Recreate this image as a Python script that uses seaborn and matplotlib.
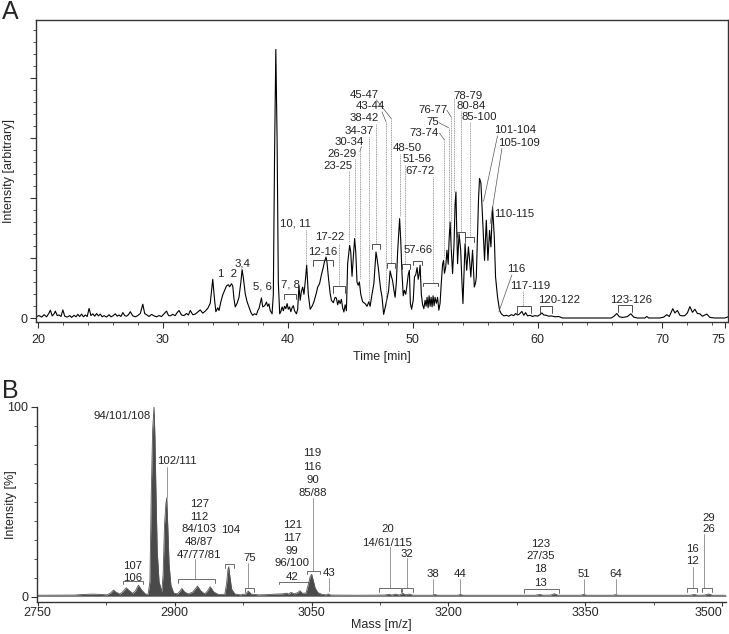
import numpy as np
import matplotlib
matplotlib.use("Agg")
import matplotlib.pyplot as plt
import seaborn as sns

sns.set_style("ticks")
plt.rcParams['font.family'] = ['Liberation Sans', 'DejaVu Sans']
plt.rcParams['font.size'] = 8

# ---- panel A: chromatogram (time in min, intensity in arbitrary units) ----
time_min = [
    19.85, 20.1, 20.3, 20.5, 20.7, 20.9, 21.0, 21.15, 21.3, 21.4,
    21.55, 21.7, 21.85, 22.0, 22.15, 22.35, 22.55, 22.7, 22.9, 23.05,
    23.2, 23.35, 23.5, 23.65, 23.8, 23.95, 24.1, 24.25, 24.4, 24.55,
    24.7, 24.85, 25.0, 25.15, 25.3, 25.5, 25.7, 25.85, 26.0, 26.2,
    26.35, 26.5, 26.65, 26.8, 26.95, 27.1, 27.25, 27.4, 27.6, 27.8,
    28.0, 28.2, 28.4, 28.55, 28.7, 28.9, 29.1, 29.3, 29.5, 29.7,
    29.9, 30.1, 30.3, 30.45, 30.6, 30.8, 31.0, 31.15, 31.3, 31.5,
    31.7, 31.9, 32.05, 32.2, 32.4, 32.6, 32.8, 33.0, 33.2, 33.4,
    33.6, 33.8, 34.0, 34.15, 34.25, 34.4, 34.5, 34.65, 34.8, 34.95,
    35.1, 35.25, 35.35, 35.5, 35.6, 35.7, 35.8, 35.95, 36.1, 36.25,
    36.35, 36.45, 36.6, 36.75, 36.9, 37.05, 37.2, 37.35, 37.5, 37.6,
    37.7, 37.8, 37.9, 38.0, 38.1, 38.2, 38.3, 38.4, 38.5, 38.6,
    38.75, 38.85, 38.95, 39.05, 39.15, 39.25, 39.36, 39.45, 39.55, 39.65,
    39.75, 39.85, 39.95, 40.05, 40.15, 40.25, 40.35, 40.45, 40.55, 40.7,
    40.8, 40.9, 41.0, 41.1, 41.2, 41.3, 41.4, 41.52, 41.65, 41.8,
    41.95, 42.1, 42.2, 42.3, 42.4, 42.55, 42.7, 42.85, 42.95, 43.07,
    43.15, 43.25, 43.4, 43.5, 43.65, 43.8, 43.9, 44.0, 44.1, 44.2,
    44.3, 44.4, 44.5, 44.6, 44.7, 44.8, 44.96, 45.05, 45.15, 45.25,
    45.36, 45.45, 45.55, 45.65, 45.74, 45.85, 46.0, 46.2, 46.35, 46.5,
    46.6, 46.75, 46.9, 47.0, 47.07, 47.15, 47.25, 47.35, 47.45, 47.55,
    47.68, 47.8, 47.95, 48.08, 48.2, 48.3, 48.4, 48.5, 48.6, 48.7,
    48.8, 48.96, 49.05, 49.15, 49.25, 49.34, 49.45, 49.55, 49.65, 49.74,
    49.82, 49.92, 50.05, 50.15, 50.25, 50.36, 50.45, 50.52, 50.6, 50.7,
    50.8, 50.9, 51.0, 51.08, 51.16, 51.24, 51.32, 51.4, 51.48, 51.56,
    51.64, 51.72, 51.8, 51.9, 52.0, 52.1, 52.2, 52.3, 52.4, 52.48,
    52.55, 52.65, 52.75, 52.85, 52.92, 53.0, 53.1, 53.2, 53.32, 53.4,
    53.47, 53.53, 53.6, 53.72, 53.85, 53.95, 54.03, 54.12, 54.2, 54.33,
    54.47, 54.57, 54.66, 54.8, 54.94, 55.05, 55.1, 55.2, 55.28, 55.36,
    55.47, 55.55, 55.63, 55.76, 55.9, 56.03, 56.16, 56.27, 56.4, 56.54,
    56.64, 56.8, 56.96, 57.1, 57.3, 57.5, 57.7, 57.9, 58.1, 58.25,
    58.4, 58.55, 58.75, 58.9, 59.05, 59.2, 59.4, 59.6, 59.8, 60.0,
    60.2, 60.35, 60.5, 60.7, 60.9, 61.1, 61.4, 61.7, 62.0, 63.0,
    64.0, 65.0, 65.9, 66.1, 66.35, 66.55, 66.8, 67.0, 67.2, 67.47,
    67.7, 68.0, 68.6, 68.75, 68.9, 69.8, 70.1, 70.35, 70.55, 70.83,
    71.0, 71.2, 71.4, 71.6, 71.8, 72.0, 72.2, 72.4, 72.6, 72.8,
    73.0, 73.2, 73.55, 73.8, 74.2, 75.0, 75.25,
]
intensity = [
    0.5, 0.9, 0.4, 1.2, 0.5, 1.8, 2.7, 0.8, 1.5, 2.4,
    0.9, 1.1, 0.6, 2.8, 0.7, 0.4, 0.9, 0.3, 1.0, 0.5,
    1.3, 0.6, 1.4, 0.5, 1.1, 0.6, 3.3, 0.9, 1.5, 0.7,
    1.6, 0.8, 1.4, 0.5, 0.9, 0.4, 1.2, 0.5, 0.8, 1.5,
    0.7, 1.1, 0.6, 1.9, 0.9, 0.7, 1.2, 2.2, 0.8, 0.5,
    0.9, 1.6, 4.7, 1.6, 1.2, 0.6, 1.3, 0.8, 0.5, 0.9,
    0.6, 1.5, 2.4, 1.0, 0.8, 1.3, 0.9, 1.9, 2.6, 1.1,
    0.9, 1.6, 1.1, 2.6, 1.2, 1.4, 2.1, 2.8, 1.7, 2.4,
    3.3, 5.0, 13.0, 6.0, 2.2, 3.5, 2.6, 5.5, 7.8, 9.3,
    10.8, 11.2, 10.5, 11.5, 10.8, 6.5, 3.8, 5.0, 7.0, 12.0,
    16.2, 13.5, 8.2, 5.5, 3.8, 2.0, 1.0, 1.5, 1.2, 2.5,
    3.2, 5.0, 6.8, 3.8, 4.0, 4.5, 5.4, 4.0, 4.8, 2.6,
    1.5, 8.0, 55.0, 89.6, 60.0, 12.0, 1.5, 2.2, 3.8, 2.5,
    4.0, 3.2, 4.9, 3.0, 3.8, 2.2, 3.5, 4.2, 2.5, 1.5,
    3.0, 10.8, 6.0, 9.0, 10.4, 8.0, 12.0, 17.7, 8.0, 3.0,
    4.0, 5.5, 7.0, 8.5, 10.4, 11.5, 14.5, 17.0, 19.0, 20.4,
    18.5, 14.0, 8.2, 6.0, 5.2, 7.0, 6.7, 4.5, 6.0, 4.9,
    6.3, 3.5, 2.1, 4.5, 2.5, 18.2, 24.3, 22.0, 14.0, 20.0,
    26.6, 22.0, 12.0, 11.0, 12.1, 8.0, 5.5, 4.9, 4.0, 5.5,
    4.0, 8.0, 11.6, 18.0, 22.1, 20.0, 17.0, 13.0, 9.5, 7.1,
    1.3, 3.5, 6.5, 9.3, 15.8, 14.0, 12.5, 9.5, 7.0, 12.0,
    22.0, 33.2, 26.0, 15.0, 7.5, 9.3, 8.0, 11.0, 14.5, 16.0,
    5.0, 3.0, 6.0, 13.8, 14.5, 16.9, 13.0, 14.5, 17.7, 8.0,
    4.5, 3.2, 6.0, 4.0, 7.0, 3.5, 7.5, 4.0, 7.0, 3.8,
    7.5, 4.2, 7.0, 5.0, 7.0, 2.7, 5.0, 12.0, 18.0, 19.3,
    15.0, 17.0, 22.7, 18.0, 26.0, 32.1, 22.7, 14.9, 25.0, 38.0,
    42.1, 30.0, 18.2, 28.2, 22.7, 12.0, 4.9, 15.0, 24.9, 16.0,
    23.8, 19.0, 13.8, 22.7, 10.4, 12.0, 13.8, 28.2, 40.0, 46.6,
    45.0, 38.0, 30.4, 19.3, 32.7, 19.3, 29.3, 23.8, 37.1, 27.1,
    13.8, 7.1, 2.7, 1.5, 0.8, 1.0, 0.7, 1.2, 0.9, 1.6,
    1.1, 1.4, 2.3, 1.0, 1.9, 0.8, 1.0, 0.6, 0.9, 0.7,
    1.2, 1.8, 1.1, 1.0, 0.7, 0.8, 0.5, 0.6, 0.1, 0.1,
    0.1, 0.1, 0.1, 0.6, 1.6, 0.5, 0.3, 0.4, 0.6, 1.5,
    0.4, 0.1, 0.1, 0.6, 0.1, 0.1, 0.4, 1.2, 0.6, 3.2,
    1.8, 2.6, 1.0, 0.8, 0.9, 1.8, 3.9, 2.0, 3.0, 1.6,
    1.5, 0.7, 1.4, 0.3, 0.1, 0.1, 0.5,
]

# peak labels of panel A: text, centre time, centre intensity
labels_a = ["1  2", "3,4", "5, 6", "7, 8", "10, 11", "12-16", "17-22",
            "23-25", "26-29", "30-34", "34-37", "38-42", "43-44", "45-47",
            "48-50", "51-56", "67-72", "57-66", "73-74", "75", "76-77",
            "78-79", "80-84", "85-100", "101-104", "105-109", "110-115",
            "116", "117-119", "120-122", "123-126"]
label_t = [35.15, 36.4, 37.95, 40.2, 40.65, 42.8, 43.35,
           44.0, 44.35, 44.9, 45.7, 46.1, 46.6, 46.1,
           49.55, 50.4, 50.6, 50.45, 50.95, 51.65, 51.6,
           54.4, 54.65, 55.35, 58.2, 58.5, 58.1,
           58.3, 59.4, 61.7, 67.5]
label_i = [14.8, 18.3, 10.6, 11.1, 31.7, 22.2, 27.0,
           50.9, 54.8, 58.7, 62.3, 66.7, 70.8, 74.4,
           56.9, 53.0, 49.1, 22.6, 61.7, 65.3, 69.4,
           74.2, 70.6, 67.0, 62.6, 58.3, 34.8,
           16.3, 10.8, 6.1, 6.1]

# leader lines of panel A (time, intensity) from label to peak
leaders_a = [
    [(41.5, 29.4), (41.5, 17.7)],
    [(44.13, 24.8), (44.13, 10.6)],
    [(44.93, 49.0), (44.93, 25.0)],
    [(45.42, 53.0), (45.42, 27.0)],
    [(45.9, 57.2), (45.78, 55.5), (45.78, 13.0)],
    [(46.54, 60.3), (46.54, 5.0)],
    [(47.03, 64.8), (47.03, 24.7)],
    [(47.55, 68.8), (47.87, 65.5), (47.87, 4.5)],
    [(47.1, 72.8), (48.3, 66.5), (48.3, 18.3)],
    [(48.96, 54.8), (48.96, 34.0)],
    [(49.42, 51.2), (49.42, 18.0)],
    [(51.6, 47.2), (51.6, 11.9)],
    [(52.15, 61.7), (52.54, 59.5), (52.54, 20.5)],
    [(52.1, 65.2), (52.88, 63.5), (52.88, 30.0)],
    [(52.75, 69.3), (53.1, 67.0), (53.1, 23.0)],
    [(53.35, 73.5), (53.35, 42.0)],
    [(53.87, 69.0), (53.87, 28.7)],
    [(54.56, 65.3), (54.56, 27.0)],
    [(56.8, 60.8), (55.68, 39.0)],
    [(57.15, 56.6), (56.2, 31.5)],
    [(57.95, 14.5), (56.9, 2.1)],
    [(58.85, 9.0), (58.85, 4.1)],
]

# brackets of panel A: start, end, top, foot
brackets_a = [
    (39.7, 40.67, 8.0, 6.3), (42.06, 43.66, 19.4, 17.4),
    (43.63, 44.6, 10.6, 8.3), (46.73, 47.36, 24.7, 23.0),
    (47.93, 48.6, 18.3, 16.7), (49.16, 49.83, 18.0, 16.3),
    (50.0, 50.77, 19.2, 17.8), (50.84, 52.04, 11.9, 10.8),
    (53.57, 54.2, 28.7, 27.0), (54.2, 54.88, 27.0, 25.3),
    (58.39, 59.44, 4.1, 1.9), (60.19, 61.12, 4.1, 1.9),
    (66.43, 67.59, 4.4, 2.2),
]

# ---- panel B: mass spectrum (m/z, relative intensity %) ----
mass_mz = [
    2749, 2790, 2800, 2810, 2820, 2826, 2830, 2833, 2836, 2840,
    2843, 2847, 2851, 2854, 2857, 2860.4, 2864, 2868, 2871, 2873,
    2874.5, 2876, 2877.5, 2878.5, 2879.5, 2881, 2883, 2886, 2887.5, 2889,
    2890.5, 2891.4, 2892.5, 2894, 2896, 2899, 2903, 2906, 2908, 2911,
    2915, 2920, 2925, 2929, 2933, 2936, 2939, 2943, 2948, 2955,
    2957, 2958.5, 2959.3, 2960.5, 2962.5, 2966, 2972, 2978, 2980.8, 2984,
    2992, 3000, 3010, 3018, 3022.8, 3025, 3027.6, 3031, 3035, 3037.4,
    3040, 3044, 3046.5, 3048.5, 3050.2, 3052, 3054, 3057, 3061, 3066,
    3068.4, 3071, 3100, 3130, 3135, 3138, 3142, 3146, 3150, 3153,
    3157, 3161, 3182, 3185, 3188, 3210, 3213, 3216, 3295, 3300,
    3304, 3312, 3316, 3320, 3345, 3348, 3351, 3380, 3383, 3386,
    3465, 3469, 3473, 3481, 3485, 3489, 3504,
]
rel_intensity = [
    0.8, 0.9, 1.2, 1.4, 1.2, 1.0, 2.0, 3.5, 2.4, 1.4,
    2.5, 4.7, 3.0, 1.8, 3.0, 6.1, 3.5, 1.5, 1.2, 8.0,
    55.0, 88.0, 100.0, 84.0, 58.0, 24.0, 8.0, 2.5, 12.0, 38.0,
    49.0, 52.0, 38.0, 17.0, 6.0, 2.0, 1.5, 3.0, 4.4, 2.5,
    1.5, 2.5, 5.6, 3.0, 1.5, 3.0, 5.3, 2.5, 1.2, 1.3,
    7.0, 14.5, 15.8, 11.0, 4.0, 1.5, 1.0, 1.5, 3.0, 1.4,
    1.0, 1.1, 1.4, 1.5, 1.9, 1.4, 2.3, 1.5, 2.2, 3.2,
    1.8, 2.0, 6.5, 10.5, 11.8, 8.5, 4.5, 2.2, 1.3, 1.0,
    1.5, 0.9, 0.8, 0.9, 1.3, 0.9, 1.4, 0.9, 1.8, 1.0,
    1.4, 0.8, 0.8, 1.2, 0.8, 0.8, 1.2, 0.8, 0.8, 1.2,
    0.8, 0.9, 1.6, 0.8, 0.8, 1.2, 0.8, 0.8, 1.1, 0.8,
    0.8, 1.2, 0.8, 0.9, 1.5, 0.8, 0.8,
]

labels_b = ["94/101/108", "102/111",
            "127", "112", "84/103", "48/87", "47/77/81",
            "107", "106", "104", "75",
            "119", "116", "90", "85/88",
            "121", "117", "99", "96/100", "42", "43",
            "20", "14/61/115", "32", "38", "44",
            "123", "27/35", "18", "13", "51", "64",
            "16", "12", "29", "26"]
label_mz = [2844.7, 2902.4,
            2927, 2927, 2927, 2927, 2927,
            2854, 2854, 2961.2, 2982.6,
            3051.3, 3051.3, 3051.3, 3051.3,
            3029, 3029, 3029, 3029, 3029, 3069,
            3133, 3133, 3154.9, 3182.7, 3212.6,
            3300.6, 3300.6, 3300.6, 3300.6, 3348.4, 3383,
            3467.4, 3467.4, 3484.6, 3484.6]
label_pct = [95.1, 71.6,
             49.0, 42.0, 35.4, 28.8, 22.0,
             16.3, 9.7, 35.0, 20.4,
             75.6, 68.5, 61.4, 54.7,
             37.7, 31.0, 24.2, 17.5, 10.6, 12.4,
             35.4, 28.3, 22.7, 11.9, 11.9,
             28.0, 21.2, 14.5, 7.4, 11.9, 11.9,
             25.3, 18.6, 41.6, 35.9]

# leader lines of panel B: m/z, top, bottom
leaders_b = [
    (2891.4, 68.5, 52.0), (2922.4, 19.8, 9.1), (2980.4, 18.0, 4.4),
    (3052.0, 51.8, 13.7), (3069.5, 10.0, 2.8), (3136.0, 26.0, 4.4),
    (3154.9, 20.2, 4.4), (3182.7, 9.5, 1.6), (3212.6, 9.5, 1.6),
    (3348.4, 9.5, 1.6), (3383.0, 9.5, 1.6), (3467.4, 15.8, 4.4),
    (3479.5, 33.0, 4.4),
]
brackets_b = [
    (2844, 2865, 8.2, 6.7), (2903.5, 2944.4, 9.1, 7.4),
    (2955.3, 2965.5, 17.0, 15.3), (2977, 2987.3, 4.4, 2.6),
    (3014.8, 3047.6, 7.9, 6.7), (3045.4, 3059.3, 13.7, 12.0),
    (3124.2, 3147.7, 4.4, 2.6), (3149.4, 3160.8, 4.4, 2.6),
    (3283, 3321.3, 3.9, 1.8), (3461.5, 3472.5, 4.4, 2.6),
    (3477.2, 3488.2, 4.4, 2.6),
]


def draw_bracket(ax, x0, x1, top, foot, color):
    ax.plot([x0, x0, x1, x1], [foot, top, top, foot], color=color, lw=0.6,
            solid_joinstyle='miter')


fig = plt.figure(figsize=(7.29, 6.34), dpi=100)
ax_a = fig.add_axes([36 / 729, 1 - 322.5 / 634, 692 / 729, 302.5 / 634])
ax_b = fig.add_axes([36.7 / 729, 1 - 601.7 / 634, 689.3 / 729, 195 / 634])

# ---------------- panel A ----------------
sns.lineplot(x=time_min, y=intensity, ax=ax_a, color='black', linewidth=0.8,
             estimator=None, sort=False)

for pts in leaders_a:
    xs, ys = zip(*pts)
    if len(pts) == 3 or xs[0] != xs[-1]:
        ax_a.plot(xs[:2], ys[:2], color='#555555', lw=0.5)
    if xs[-2] == xs[-1]:
        ax_a.plot(xs[-2:], ys[-2:], color='#777777', lw=0.5,
                  linestyle=(0, (1.5, 1)))
for x0, x1, top, foot in brackets_a:
    draw_bracket(ax_a, x0, x1, top, foot, '#333333')
for txt, t, i in zip(labels_a, label_t, label_i):
    ax_a.text(t, i, txt, ha='center', va='center', fontsize=8.2, color='#222222')

ax_a.set_xlim(19.85, 75.25)
ax_a.set_ylim(-1.4, 99.4)
ax_a.set_xticks([20, 30, 40, 50, 60, 70, 75])
ax_a.set_xticks(np.arange(22, 75, 2), minor=True)
ax_a.set_yticks([0, 20, 40, 60, 80])
ax_a.set_yticklabels(['0', '', '', '', ''])
ax_a.set_yticks([v for v in range(4, 100, 4) if v % 20], minor=True)
ax_a.xaxis.get_majorticklabels()[-1].set_horizontalalignment('right')
ax_a.set_xlabel('Time [min]', fontsize=9, labelpad=4)
ax_a.set_ylabel('Intensity [arbitrary]', fontsize=9)
ax_a.yaxis.set_label_coords(-0.031, 0.5)
for s in ax_a.spines.values():
    s.set_color('#333333')
    s.set_linewidth(1.0)

# ---------------- panel B ----------------
ax_b.fill_between(mass_mz, 0.3, rel_intensity, color='#4a4a4a', lw=0)
sns.lineplot(x=mass_mz, y=rel_intensity, ax=ax_b, color='#555555',
             linewidth=0.6, estimator=None, sort=False)

for x, top, bot in leaders_b:
    ax_b.plot([x, x], [top, bot], color='#888888', lw=0.6)
for x0, x1, top, foot in brackets_b:
    draw_bracket(ax_b, x0, x1, top, foot, '#555555')
for txt, m, p in zip(labels_b, label_mz, label_pct):
    ha = 'right' if txt == '94/101/108' else 'center'
    xx = 2873.5 if txt == '94/101/108' else m
    ax_b.text(xx, p, txt, ha=ha, va='center', fontsize=8.2, color='#222222')

ax_b.set_xlim(2749, 3504)
ax_b.set_ylim(-2.6, 100)
ax_b.set_xticks([2750, 2900, 3050, 3200, 3350, 3500])
ax_b.set_xticks([2825, 2975, 3125, 3275, 3425], minor=True)
ax_b.set_yticks([0, 100])
ax_b.set_yticks(range(10, 100, 10), minor=True)
ax_b.xaxis.get_majorticklabels()[-1].set_horizontalalignment('right')
ax_b.set_ylabel('Intensity [%]', fontsize=9)
ax_b.yaxis.set_label_coords(-0.029, 0.5)
sns.despine(ax=ax_b)
for s in ('left', 'bottom'):
    ax_b.spines[s].set_color('#333333')
    ax_b.spines[s].set_linewidth(1.0)

for ax in (ax_a, ax_b):
    ax.tick_params(which='major', direction='out', length=4, width=0.8,
                   color='#333333', labelsize=9, pad=2)
    ax.tick_params(which='minor', direction='out', length=2.5, width=0.6,
                   color='#333333')
ax_a.tick_params(axis='x', which='major', pad=4)
ax_b.tick_params(axis='x', which='major', pad=1, length=3)
ax_b.set_xlabel('Mass [m/z]', fontsize=9, labelpad=0)

fig.text(0.003, 1.0, 'A', fontsize=18, va='top', ha='left')
fig.text(0.003, 0.402, 'B', fontsize=18, va='top', ha='left')

fig.savefig('out.png', dpi=100)
